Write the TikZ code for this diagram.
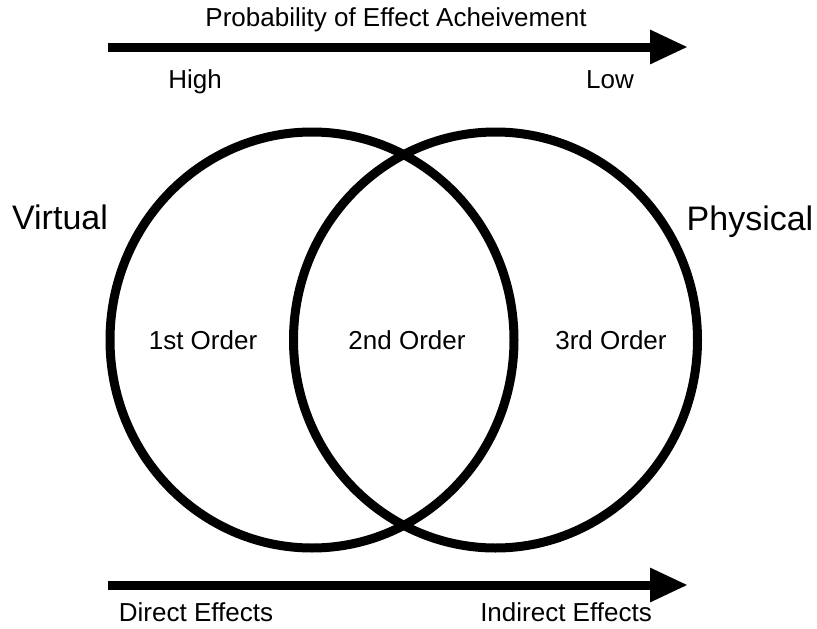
\documentclass[tikz,border=0pt]{standalone}
\usepackage{fontspec}
\setmainfont{Liberation Sans}
\usetikzlibrary{arrows.meta,shapes.geometric}
\begin{document}
\begin{tikzpicture}[x=1pt,y=-1pt,
  small/.style={font=\fontsize{26}{31}\selectfont, inner sep=0pt, anchor=center},
  big/.style={font=\fontsize{34}{40}\selectfont, inner sep=0pt, anchor=base},
  ring/.style={ellipse, draw, line width=9pt, minimum width=404pt, minimum height=416pt, inner sep=0pt},
  bigarrow/.style={line width=9pt, -{Triangle[length=38pt,width=32pt]}}]
\useasboundingbox (0,0) rectangle (817,629);
% circles
\node[ring] (vc) at (312,340) {};
\node[ring] (pc) at (495.5,340) {};
% arrows
\coordinate (ta) at (108,47);
\coordinate (tb) at (688,47);
\coordinate (ba) at (108,585);
\coordinate (bb) at (688,585);
\draw[bigarrow] (ta) -- (tb);
\draw[bigarrow] (ba) -- (bb);
% texts
\node[small] (title) at (396,20) {Probability of Effect Acheivement};
\node[small, anchor=base] (high) at (195,88) {High};
\node[small, anchor=base] (low) at (610,88) {Low};
\node[big] (virt) at (60,229) {Virtual};
\node[big] (phys) at (750,230) {Physical};
\node[small] (o1) at (203,340) {1st Order};
\node[small] (o2) at (407,340) {2nd Order};
\node[small] (o3) at (611,340) {3rd Order};
\node[small] (de) at (196,612) {Direct Effects};
\node[small] (ie) at (566,612) {Indirect Effects};
\end{tikzpicture}
\end{document}
